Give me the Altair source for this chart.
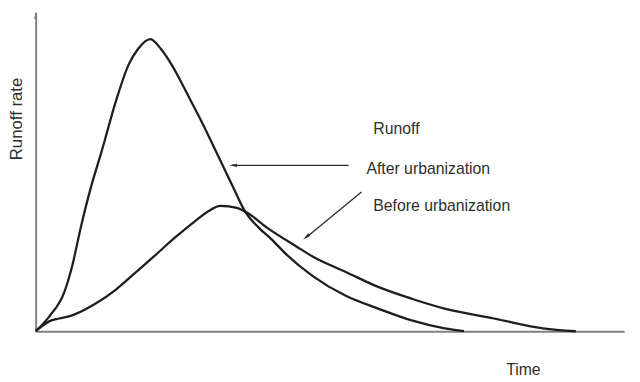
import altair as alt
import pandas as pd

# Hydrograph (time and runoff rate in arbitrary units, 0-100)
after_time = [0, 2.3, 4.9, 6.2, 7.7, 9.4, 11.1, 13.8, 15.8, 17.4, 19.5, 21.3, 23.3, 25.8,
              28.4, 30.9, 33.4, 35.6, 37.9, 40.1, 42.6, 47.1, 52.7, 58.2,
              63.9, 69.5, 72.8]
after_rate = [0, 4.6, 12.4, 20.4, 32.8, 45.2, 55.7, 73.1, 83.6, 88.5, 91.6, 88.5, 83.0, 74.3,
              65.0, 55.4, 45.8, 37.5, 32.5, 28.8, 24.1, 17.3, 11.1, 7.1,
              3.4, 0.9, 0]

before_time = [0, 2.3, 4.0, 6.2, 10.2, 13.6, 16.9, 20.3, 23.7, 27.0, 29.5, 31.4, 34.2, 35.9,
               39.3, 44.3, 47.3, 52.7, 58.2, 63.9, 69.5, 77.9, 86.2, 91.8]
before_rate = [0, 3.1, 4.0, 5.0, 8.7, 13.0, 18.3, 23.8, 29.4, 34.4, 37.8, 39.3, 38.7, 37.2,
               32.5, 26.6, 23.2, 18.6, 13.9, 10.2, 7.1, 4.0, 0.9, 0]

series_names = ["After urbanization", "Before urbanization"]

df = pd.concat([
    pd.DataFrame({"time": after_time, "rate": after_rate, "series": series_names[0]}),
    pd.DataFrame({"time": before_time, "rate": before_rate, "series": series_names[1]}),
])

W, H = 596, 323
INK = "#1e1e1e"
AXIS = "#808080"
TXT = "#2e2e2e"
SANS = "Liberation Sans, Arial, sans-serif"
ARROW = "M1,0L-1,-0.42L-1,0.42Z"

x = alt.X("time:Q", scale=alt.Scale(domain=[0, 100], nice=False),
          axis=alt.Axis(title=None, labels=False, ticks=False, grid=False,
                        domainColor=AXIS, domainWidth=2))
y = alt.Y("rate:Q", scale=alt.Scale(domain=[0, 100], nice=False),
          axis=alt.Axis(title=None, labels=False, ticks=False, grid=False,
                        domainColor=AXIS, domainWidth=2))

curves = alt.Chart(df).mark_line(color=INK, strokeWidth=2.3, interpolate="monotone").encode(
    x=x, y=y, detail="series:N"
)

one = alt.Data(values=[{}])


def label(text, px, py, size=16, align="left", angle=0):
    return alt.Chart(one).mark_text(
        text=text, fontSize=size, font=SANS, color=TXT, align=align,
        baseline="middle", angle=angle
    ).encode(x=alt.value(px), y=alt.value(py))


def line(x1, y1, x2, y2):
    return alt.Chart(one).mark_rule(color="#2a2a2a", strokeWidth=1.3).encode(
        x=alt.value(x1), y=alt.value(y1), x2=alt.value(x2), y2=alt.value(y2)
    )


def head(px, py, ang, color="#2a2a2a", size=64):
    return alt.Chart(one).mark_point(
        shape=ARROW, filled=True, color=color, opacity=1, size=size, angle=ang, strokeWidth=0
    ).encode(x=alt.value(px), y=alt.value(py))


layers = [
    curves,
    label("Runoff", 342, 118),
    label("After urbanization", 335, 159),
    label("Before urbanization", 342, 196),
    label("Time", 494, 362, size=16, align="center"),
    label("Runoff rate", -19, 108, size=17, align="center", angle=270),
    line(317, 155, 199, 155),
    head(200, 155, 180),
    line(330, 182, 274, 228),
    head(274, 227.5, 141),
    head(0, 3, 270, color=AXIS, size=56),
]

chart = alt.layer(*layers).properties(
    width=W, height=H,
    autosize=alt.AutoSizeParams(type="none"),
    padding={"left": 28, "top": 2, "right": 8, "bottom": 48},
    background="white",
).configure_view(stroke=None)

chart.save("out.html", embed_options={"renderer": "svg", "actions": False})
